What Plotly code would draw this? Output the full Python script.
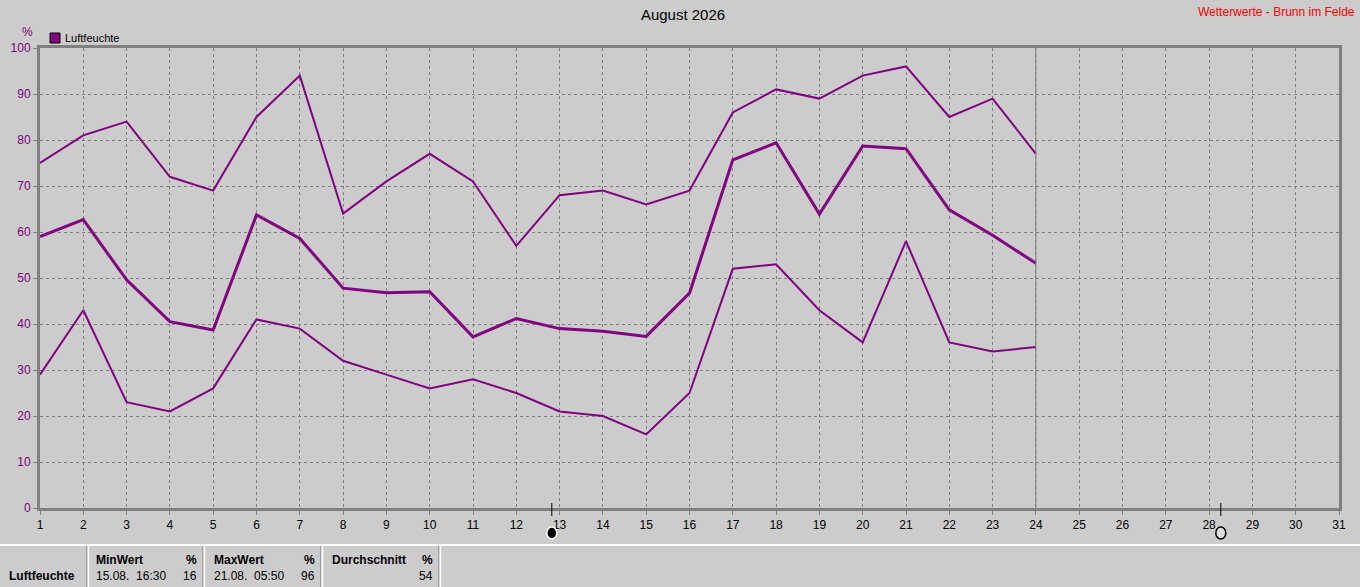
import plotly.graph_objects as go

days = list(range(1, 25))
hum_max = [75, 81, 84, 72, 69, 85, 94, 64, 71, 77, 71, 57, 68, 69, 66, 69, 86, 91, 89, 94, 96, 85, 89, 77]
hum_avg = [59, 62.7, 49.6, 40.5, 38.7, 63.7, 58.6, 47.8, 46.8, 47, 37.2, 41.2, 39, 38.4, 37.3, 46.7,
           75.7, 79.4, 63.9, 78.7, 78.1, 64.8, 59.3, 53.2]
hum_min = [29, 43, 23, 21, 26, 41, 39, 32, 29, 26, 28, 25, 21, 20, 16, 25, 52, 53, 43, 36, 58, 36, 34, 35]

x_ticks = list(range(1, 32))
y_ticks = list(range(0, 101, 10))
today = 24
moon_days = [12.82, 28.27]
moon_fill = ["black", "#e0e0e0"]
moon_edge = ["white", "black"]

title_text = "August 2026"
site_text = "Wetterwerte - Brunn im Felde"
series_name = "Luftfeuchte"
unit = "%"
table_heads = ["MinWert", "MaxWert", "Durchschnitt"]
table_vals = ["15.08.\u00a0\u00a016:30", "21.08.\u00a0\u00a005:50", ""]
table_nums = ["16", "96", "54"]

PURPLE = "#800080"
BG = "#cccccc"
GRID = "#808080"
FONT = "Liberation Sans"

W, H = 1360, 587
L, R, T, B = 40, 1339, 48, 508


def px_x(p):
    return (p - L) / (R - L)


def px_y(p):
    return (B - p) / (B - T)


fig = go.Figure()
for vals, w in [(hum_max, 2), (hum_avg, 3), (hum_min, 2)]:
    fig.add_trace(go.Scatter(x=days, y=vals, mode="lines", line=dict(color=PURPLE, width=w),
                             showlegend=False, hoverinfo="skip"))

# today line
fig.add_shape(type="line", xref="x", yref="paper", x0=today, x1=today, y0=0, y1=1,
              line=dict(color=GRID, width=1))

# moon ticks and symbols
for d, fc, ec in zip(moon_days, moon_fill, moon_edge):
    fig.add_shape(type="line", xref="x", yref="paper", xsizemode="pixel", ysizemode="pixel",
                  xanchor=d, yanchor=px_y(509.5), x0=0, x1=0, y0=-6.5, y1=6.5,
                  line=dict(color="black", width=1))
    fig.add_shape(type="circle", xref="x", yref="paper", xsizemode="pixel", ysizemode="pixel",
                  xanchor=d, yanchor=px_y(533), x0=-5, x1=5, y0=-6, y1=6,
                  fillcolor=fc, line=dict(color=ec, width=1.5))

fig.update_layout(
    width=W, height=H,
    margin=dict(l=L, r=W - R, t=T, b=H - B),
    paper_bgcolor=BG, plot_bgcolor=BG,
    font=dict(family=FONT, size=12, color="black"),
    title=dict(text=title_text, x=683 / W, xanchor="center", xref="container",
               y=1 - 15 / H, yanchor="middle", yref="container",
               font=dict(size=15, color="black", family=FONT)),
    showlegend=False,
)

fig.update_xaxes(range=[1, 31], tickmode="array", tickvals=x_ticks,
                 ticktext=[str(v) for v in x_ticks],
                 showgrid=True, gridcolor=GRID, griddash="3px,3px", gridwidth=1,
                 showline=True, linecolor=GRID, linewidth=3, mirror=True,
                 ticks="outside", ticklen=4, tickcolor=GRID,
                 tickfont=dict(size=12, color="black"), zeroline=False, fixedrange=True)
fig.update_yaxes(range=[0, 100], tickmode="array", tickvals=y_ticks,
                 showgrid=True, gridcolor=GRID, griddash="3px,3px", gridwidth=1,
                 showline=True, linecolor=GRID, linewidth=3, mirror=True,
                 ticks="outside", ticklen=4, tickcolor=GRID,
                 tickfont=dict(size=12, color=PURPLE), zeroline=False, fixedrange=True)

ann = []
ann.append(dict(text=site_text, xref="paper", yref="paper", x=px_x(1357), y=px_y(12),
                xanchor="right", yanchor="middle", showarrow=False,
                font=dict(size=12, color="red", family=FONT)))
ann.append(dict(text=unit, xref="paper", yref="paper", x=px_x(27), y=px_y(32),
                xanchor="center", yanchor="middle", showarrow=False,
                font=dict(size=12, color=PURPLE, family=FONT)))

# legend key
fig.add_shape(type="rect", xref="paper", yref="paper", x0=px_x(50), x1=px_x(60),
              y0=px_y(43), y1=px_y(33), fillcolor=PURPLE, line=dict(color="black", width=1))
ann.append(dict(text=series_name, xref="paper", yref="paper", x=px_x(63), y=px_y(38),
                xanchor="left", yanchor="middle", showarrow=False,
                font=dict(size=11, color="black", family=FONT)))

# table
fig.add_shape(type="line", xref="paper", yref="paper", x0=px_x(0), x1=px_x(W),
              y0=px_y(545), y1=px_y(545), line=dict(color="white", width=2))
for xp in [88, 204, 322, 440]:
    fig.add_shape(type="line", xref="paper", yref="paper", x0=px_x(xp - 1.5), x1=px_x(xp - 1.5),
                  y0=px_y(546), y1=px_y(H), line=dict(color="#a0a0a0", width=1))
    fig.add_shape(type="line", xref="paper", yref="paper", x0=px_x(xp + 0.5), x1=px_x(xp + 0.5),
                  y0=px_y(546), y1=px_y(H), line=dict(color="white", width=1.5))

ann.append(dict(text="<b>" + series_name + "</b>", xref="paper", yref="paper", x=px_x(7), y=px_y(576),
                xanchor="left", yanchor="middle", showarrow=False, font=dict(size=12, family=FONT)))
lefts = [94, 212, 330]
rights = [199, 317, 435]
for i in range(3):
    ann.append(dict(text="<b>" + table_heads[i] + "</b>", xref="paper", yref="paper",
                    x=px_x(lefts[i]), y=px_y(560), xanchor="left", yanchor="middle",
                    showarrow=False, font=dict(size=12, family=FONT)))
    ann.append(dict(text="<b>" + unit + "</b>", xref="paper", yref="paper",
                    x=px_x(rights[i]), y=px_y(560), xanchor="right", yanchor="middle",
                    showarrow=False, font=dict(size=12, family=FONT)))
    if table_vals[i]:
        ann.append(dict(text=table_vals[i], xref="paper", yref="paper",
                        x=px_x(lefts[i]), y=px_y(576), xanchor="left", yanchor="middle",
                        showarrow=False, font=dict(size=12, family=FONT)))
    ann.append(dict(text=table_nums[i], xref="paper", yref="paper",
                    x=px_x(rights[i]), y=px_y(576), xanchor="right", yanchor="middle",
                    showarrow=False, font=dict(size=12, family=FONT)))

fig.update_layout(annotations=ann)

fig.write_html("out.html", config={"displayModeBar": False},
               post_script="document.body.style.margin='0';document.body.style.overflow='hidden';")
